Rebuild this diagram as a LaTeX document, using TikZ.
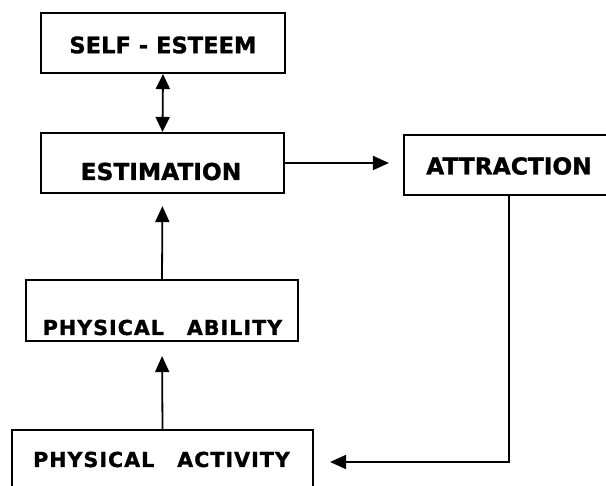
\documentclass[tikz,border=0pt]{standalone}
\usepackage{fontspec}
\setmainfont{DejaVu Sans}
\newfontfamily\upfont{DejaVu Sans}[BoldFeatures={FakeBold=1.2}]
\newfontfamily\lowfont{DejaVu Sans}[LetterSpace=5,WordSpace=2.8,BoldFeatures={FakeBold=1.2}]
\usetikzlibrary{arrows.meta}
\begin{document}
\begin{tikzpicture}[x=1pt,y=-1pt,
  box/.style={draw, line width=2.1pt, inner sep=0pt},
  uplbl/.style={inner sep=0pt, font=\upfont\bfseries\fontsize{23.3}{28}\selectfont},
  lowlbl/.style={inner sep=0pt, font=\lowfont\bfseries\fontsize{20.6}{25}\selectfont},
  conn/.style={line width=1.8pt, -{Triangle[length=16pt,width=14pt]}},
  dconn/.style={line width=1.8pt, {Triangle[length=15pt,width=14pt]}-{Triangle[length=15pt,width=14pt]}}
]
\clip (0,0) rectangle (606,486);
% boxes
\node[box, minimum width=244pt, minimum height=60pt] (self) at (163,43) {};
\node[box, minimum width=243pt, minimum height=60pt] (est) at (162.5,163) {};
\node[box, minimum width=220pt, minimum height=60pt] (att) at (514,165) {};
\node[box, minimum width=272pt, minimum height=61pt] (abil) at (162,310.5) {};
\node[box, minimum width=301pt, minimum height=64pt] (act) at (162.5,462) {};
% labels
\node[uplbl, font=\upfont\bfseries\fontsize{22.6}{26}\selectfont] (selfl) at (163,45) {SELF - ESTEEM};
\node[uplbl] (estl) at (161,171.5) {ESTIMATION};
\node[uplbl] (attl) at (509,166) {ATTRACTION};
\node[lowlbl] (abill) at (162.5,327.5) {PHYSICAL ABILITY};
\node[lowlbl] (actl) at (161.5,459.5) {PHYSICAL ACTIVITY};
% connectors
\coordinate (corner) at (509,462);
\draw[dconn] (self.south) -- (est.north);
\draw[conn, shorten >=12pt] (abil.north) -- (est.south);
\draw[conn, shorten >=14pt] (act.north) -- (abil.south);
\draw[conn, shorten >=14pt] (est.east) -- (att.west |- est.east);
\draw[conn, shorten >=16pt] (att.south -| corner) -- (corner) -- (act.east |- corner);
\end{tikzpicture}
\end{document}
